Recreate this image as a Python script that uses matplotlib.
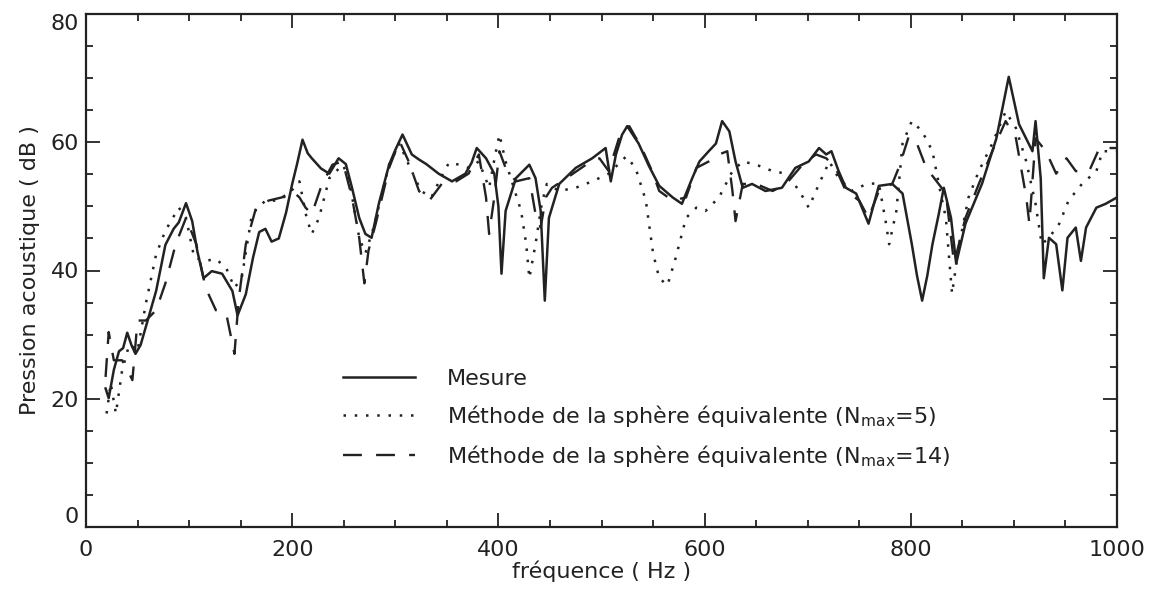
import matplotlib
matplotlib.use("Agg")
import matplotlib.pyplot as plt
from matplotlib.ticker import MultipleLocator

plt.rcParams['font.family'] = ['DejaVu Sans']

mesure_f = [19, 22, 27, 32, 36, 40, 44, 48, 53, 60, 68, 77, 85, 90, 97, 103, 108, 114, 122, 132,
            142, 147, 155, 162, 168, 174, 180, 187, 194, 200, 205, 210, 215, 219, 228, 236, 245, 252,
            258, 265, 271, 277, 284, 294, 300, 307, 316, 323, 330, 342, 355, 368, 374, 379, 388, 396,
            400, 403, 407, 417, 430, 436, 441, 445, 449, 459, 475, 491, 504, 509, 514, 520, 525, 536,
            546, 556, 569, 578, 588, 595, 604, 611, 617, 624, 630, 637, 646, 659, 675, 688, 701, 711,
            718, 723, 730, 737, 747, 759, 769, 782, 792, 801, 806, 811, 816, 821, 827, 832, 839, 844,
            853, 869, 883, 895, 905, 913, 918, 921, 926, 929, 934, 941, 947, 952, 960, 965, 970, 980,
            989, 1000]
mesure_db = [21.6, 20.1, 24.5, 27.4, 27.9, 30.3, 28.4, 27, 28.4, 32.3, 36.8, 44, 46.5, 47.5, 50.5, 47.7, 43, 38.8, 39.9, 39.5,
             36.8, 33, 36.3, 42, 46, 46.5, 44.5, 45, 49, 53.5, 56.8, 60.4, 58.3, 57.5, 55.9, 55.1, 57.5, 56.6,
             52.9, 48.2, 45.7, 45.1, 50.4, 56.5, 58.8, 61.2, 58.1, 57.3, 56.6, 55.1, 53.9, 55.1, 56.8, 59.1, 57.5, 55.1,
             50, 39.5, 49.3, 54.4, 56.5, 54.4, 49.3, 35.3, 48.2, 53.5, 56, 57.5, 59.1, 53.9, 58.1, 61.2, 62.5, 59.8,
             56.3, 53.2, 51.4, 50.4, 54.4, 57, 58.6, 59.8, 63.3, 61.7, 57, 52.9, 53.5, 52.4, 52.9, 56, 57, 59.1,
             58.1, 58.6, 55.5, 52.9, 52, 47.3, 53.2, 53.5, 52, 44.1, 39.2, 35.3, 39.2, 44.1, 48.7, 52.9, 48.2, 41.1,
             47.3, 53.5, 60.6, 70.2, 62.8, 60.2, 58.6, 63.3, 54.4, 38.8, 45.1, 44.1, 36.9, 45.1, 46.7, 41.5, 46.7, 49.8,
             50.4, 51.4]

n5_f = [20, 24, 29, 35, 42, 50, 58, 68, 77, 90, 97, 105, 116, 126, 136, 144, 151, 161, 174, 187,
        197, 207, 214, 219, 226, 236, 249, 255, 265, 271, 279, 294, 304, 313, 325, 335, 344, 352, 362, 371,
        381, 391, 397, 401, 407, 413, 422, 427, 430, 436, 442, 447, 459, 475, 491, 507, 524, 533, 543, 550,
        556, 564, 572, 582, 592, 601, 614, 627, 637, 650, 666, 679, 692, 701, 711, 721, 730, 743, 757, 769,
        776, 779, 786, 792, 801, 811, 821, 829, 834, 840, 847, 856, 866, 879, 892, 902, 912, 921, 927, 934,
        944, 953, 966, 980, 986, 1000]
n5_db = [17.7, 22.4, 17.7, 24.4, 28.5, 27.5, 34.8, 42.5, 46.2, 49.8, 48.2, 42, 41.5, 41.8, 40.4, 37.3, 38.8, 48.8, 50.9, 50.9,
         52, 53.9, 48.2, 45.7, 48.2, 54.4, 56.5, 54.4, 45.1, 42.7, 46.7, 56.5, 59.8, 56.5, 52.4, 51.4, 54.4, 56.8, 56.5, 56,
         57, 52.9, 58.1, 61.2, 57, 53.9, 49.3, 44.1, 38.8, 44.1, 50.4, 53.5, 52.4, 52.9, 53.9, 55.1, 57.8, 56, 50.9, 42.7,
         38.8, 37.7, 42, 48.2, 49.8, 49.3, 51.4, 55.5, 57, 56.5, 55.5, 55.1, 52.4, 49.8, 53.5, 57, 54.4, 52.4, 53.5, 53.6,
         47.3, 44.1, 49.3, 59.8, 63.3, 61.7, 58.6, 52, 48.2, 36.4, 44.1, 51.4, 55.5, 59.8, 64.8, 62.2, 57, 50.4, 44.1, 45.1,
         47.3, 50.9, 53.5, 55.5, 58.6, 58.6]

n14_f = [19, 22, 27, 35, 40, 45, 50, 58, 68, 77, 87, 97, 107, 116, 126, 136, 144, 148, 155, 165,
         177, 190, 200, 207, 213, 219, 229, 239, 249, 258, 265, 270, 274, 281, 294, 304, 313, 323, 333, 345,
         359, 371, 381, 388, 391, 396, 401, 407, 417, 430, 436, 441, 446, 452, 466, 485, 498, 507, 520, 527,
         539, 549, 556, 569, 582, 592, 604, 614, 622, 627, 630, 637, 650, 666, 679, 695, 708, 718, 727, 737,
         750, 759, 769, 782, 789, 798, 805, 815, 827, 834, 842, 853, 866, 879, 892, 902, 912, 915, 921, 931,
         941, 951, 960, 973, 983, 1000]
n14_db = [23.4, 30.4, 26, 26, 24.6, 22.9, 32.2, 32.2, 33.8, 38, 44.1, 48.2, 44.1, 37.3, 33.8, 33.3, 27, 35.3, 44.1, 49.8,
          50.9, 51.4, 52.4, 51.4, 49.8, 48.8, 53.5, 56.5, 57, 51.4, 45.1, 38, 43.1, 47.3, 56, 60.2, 57, 52.4, 50.9, 53.5,
          53.9, 55.1, 58.1, 51.4, 45.7, 51.4, 58.6, 56, 53.9, 54.4, 48.8, 46.7, 51.4, 52.9, 54.4, 56.5, 57.5, 55.5, 62.2, 62.5,
          59.1, 55.5, 52.4, 50.9, 51.4, 56, 57, 58.1, 58.6, 52.4, 47.7, 53.5, 53.5, 52.4, 53.5, 56.5, 58.1, 57.5, 56, 52.4,
          50.9, 48.2, 52.4, 53.5, 56.3, 60.9, 60.2, 56, 53.5, 52, 41.1, 48.2, 53.5, 58.6, 63.3, 60.6, 51.4, 47.3, 60.6, 58.6,
          55.1, 57.5, 55.5, 55.5, 59.1, 59.1]

labels = ["Mesure",
          r"Méthode de la sphère équivalente ($\mathregular{N_{max}}$=5)",
          r"Méthode de la sphère équivalente ($\mathregular{N_{max}}$=14)"]
x_ticks = [0, 200, 400, 600, 800, 1000]
y_ticks = [0, 20, 40, 60, 80]

ink = "#222222"
fig = plt.figure(figsize=(11.52, 5.92), dpi=100)
ax = fig.add_axes([86 / 1152, 65 / 592, 1031 / 1152, 513 / 592])

ax.plot(mesure_f, mesure_db, color=ink, lw=1.8, label=labels[0])
ax.plot(n5_f, n5_db, color=ink, lw=1.8, linestyle=(0, (1, 3.5)), label=labels[1])
ax.plot(n14_f, n14_db, color=ink, lw=1.7, linestyle=(0, (8, 6)), label=labels[2])

ax.set_xlim(0, 1000)
ax.set_ylim(0, 80)
ax.set_xticks(x_ticks)
ax.set_yticks(y_ticks)
ax.xaxis.set_minor_locator(MultipleLocator(50))
ax.yaxis.set_minor_locator(MultipleLocator(5))
ax.tick_params(which='both', direction='in', top=True, right=True, colors=ink, width=1.3,
               labelsize=16)
ax.tick_params(axis='x', which='major', pad=9)
ax.tick_params(axis='y', which='major', pad=5)
ax.tick_params(which='major', length=10)
ax.tick_params(which='minor', length=5)
for s in ax.spines.values():
    s.set_linewidth(1.6)
    s.set_color(ink)

ylabels = ax.get_yticklabels()
ylabels[0].set_verticalalignment('bottom')
ylabels[-1].set_verticalalignment('top')

ax.set_xlabel("fréquence ( Hz )", fontsize=16, color=ink, labelpad=1)
ax.set_ylabel("Pression acoustique ( dB )", fontsize=16, color=ink, labelpad=8)

leg = ax.legend(loc='upper left', bbox_to_anchor=(0.2405, 0.3255), frameon=False, fontsize=16,
                handlelength=3.25, handletextpad=1.45, labelspacing=0.63, borderaxespad=0)
for t in leg.get_texts():
    t.set_color(ink)

fig.savefig("out.png", dpi=100, facecolor='white')
